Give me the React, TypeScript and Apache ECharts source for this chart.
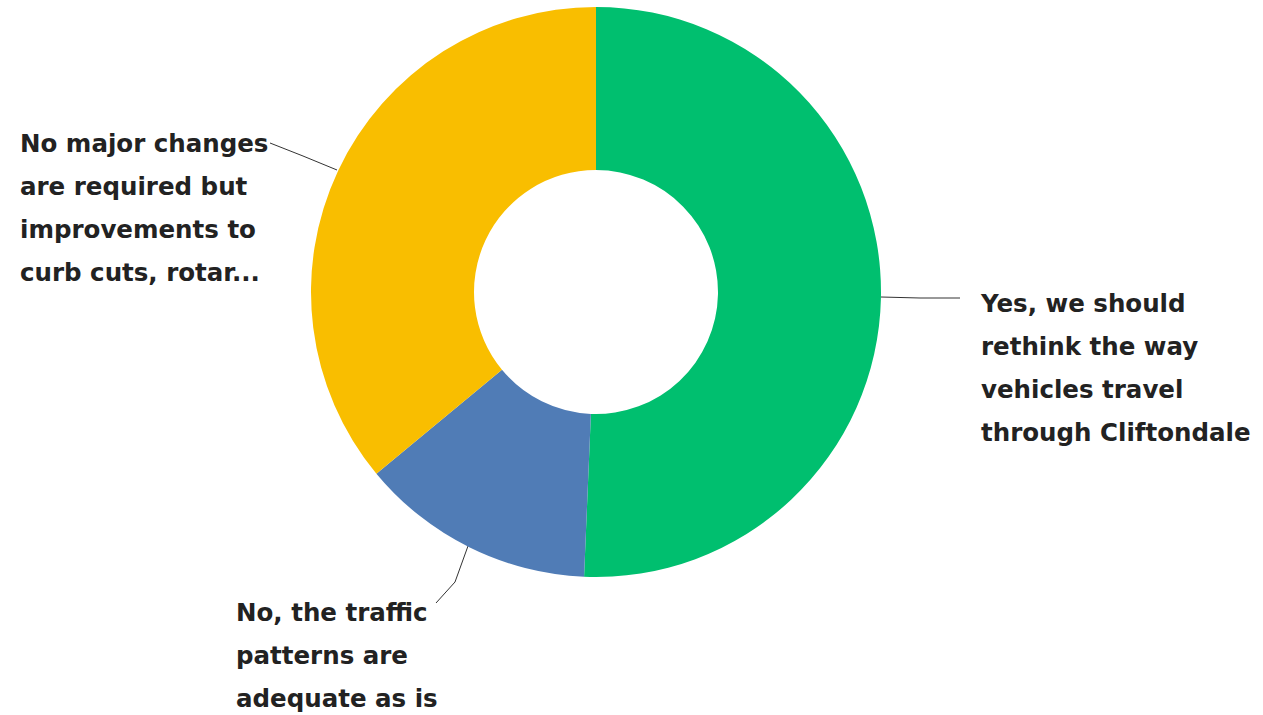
import React, { useEffect, useRef } from "react";
import * as echarts from "echarts";

const categories = [
  "Yes, we should rethink the way vehicles travel through Cliftondale",
  "No, the traffic patterns are adequate as is",
  "No major changes are required but improvements to curb cuts, rotar...",
];
const labelLines = [
  ["Yes, we should", "rethink the way", "vehicles travel", "through Cliftondale"],
  ["No, the traffic", "patterns are", "adequate as is"],
  ["No major changes", "are required but", "improvements to", "curb cuts, rotar..."],
];
const values = [38, 10, 27];
const colors = ["#00BF6F", "#507CB6", "#F9BE00"];

export default function App() {
  const ref = useRef<HTMLDivElement>(null);
  useEffect(() => {
    if (!ref.current) return;
    const chart = echarts.init(ref.current, null, { renderer: "svg" });
    const LH = 43;
    chart.setOption({
      animation: false,
      series: [
        {
          type: "pie",
          center: [596, 292],
          radius: [122, 285],
          startAngle: 90,
          clockwise: true,
          silent: true,
          data: categories.map((c, i) => ({
            name: c,
            value: values[i],
            itemStyle: { color: colors[i] },
          })),
          label: {
            show: true,
            formatter: (p: any) => labelLines[p.dataIndex].join("\n"),
            fontFamily: "DejaVu Sans",
            fontWeight: "bold",
            fontSize: 24.5,
            lineHeight: LH,
            color: "#222",
          },
          labelLine: {
            show: true,
            lineStyle: { color: "#333", width: 1 },
          },
          labelLayout: (p: any) => {
            const i = p.dataIndex;
            if (i === 0) {
              return {
                x: 981,
                y: 303 - LH / 2,
                align: "left",
                verticalAlign: "top",
                labelLinePoints: [
                  [881, 297],
                  [920, 298],
                  [960, 298],
                ],
              };
            }
            if (i === 1) {
              return {
                x: 236,
                y: 612 - LH / 2,
                align: "left",
                verticalAlign: "top",
                labelLinePoints: [
                  [468, 546],
                  [455, 582],
                  [436, 603],
                ],
              };
            }
            return {
              x: 20,
              y: 143 - LH / 2,
              align: "left",
              verticalAlign: "top",
              labelLinePoints: [
                [337, 170],
                [303, 156],
                [270, 143],
              ],
            };
          },
        },
      ],
    });
    return () => chart.dispose();
  }, []);
  return (
    <div
      ref={ref}
      style={{ position: "fixed", left: 0, top: 0, width: 1263, height: 715, background: "#fff" }}
    />
  );
}
